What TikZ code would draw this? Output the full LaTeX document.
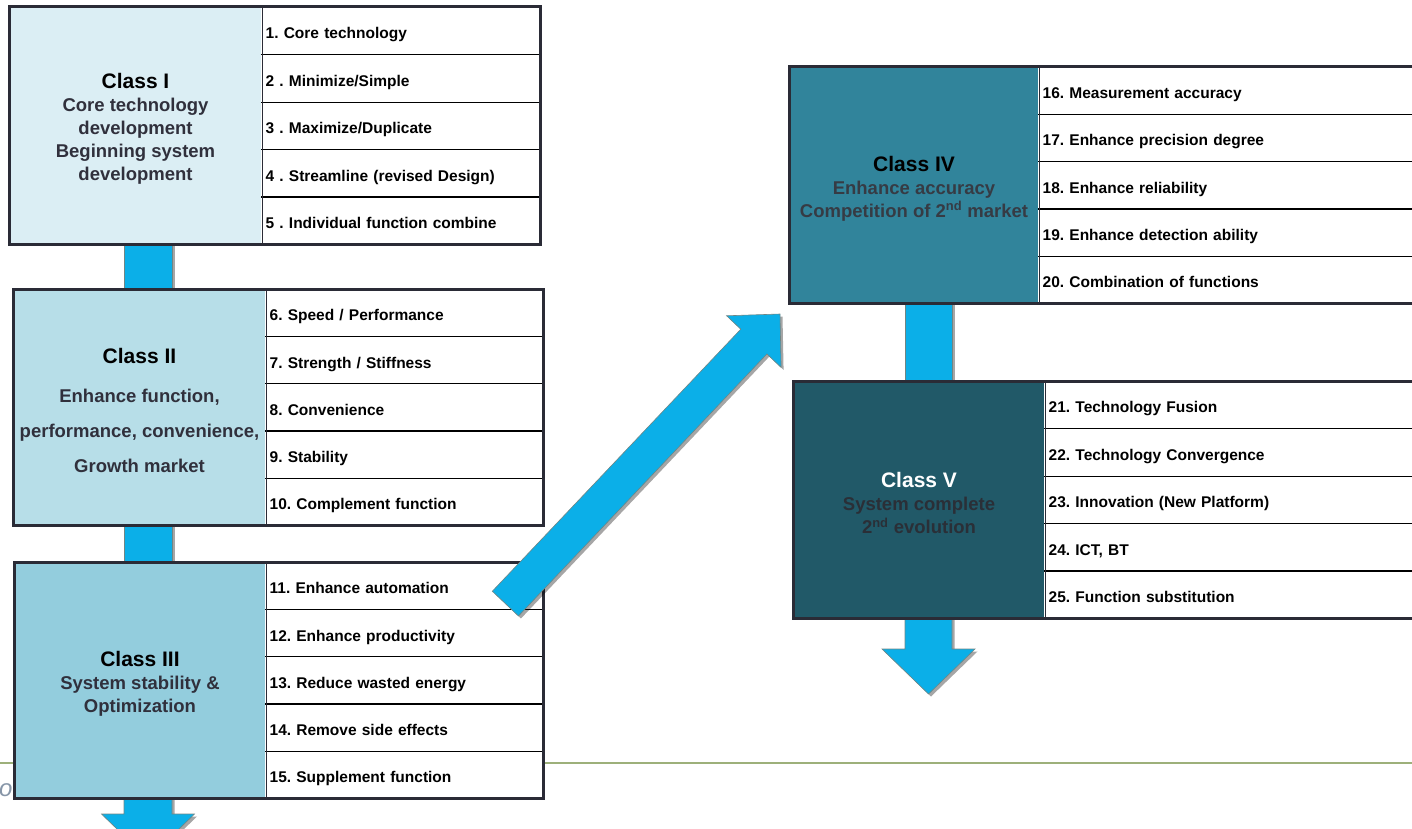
\documentclass[tikz,border=0pt]{standalone}
\usepackage{fontspec}
\setmainfont{Liberation Sans}
\usetikzlibrary{calc,shadows,backgrounds}

\definecolor{boxline}{HTML}{2A2B36}
\definecolor{fillI}{HTML}{DBEEF4}
\definecolor{fillII}{HTML}{B7DEE8}
\definecolor{fillIII}{HTML}{93CDDD}
\definecolor{fillIV}{HTML}{31849B}
\definecolor{fillV}{HTML}{215968}
\definecolor{subgrey}{HTML}{30303C}
\definecolor{subIV}{HTML}{363B44}
\definecolor{subV}{HTML}{2A2F37}
\definecolor{arrowblue}{HTML}{0BAFE8}
\definecolor{arrowedge}{HTML}{6F8584}
\definecolor{footline}{HTML}{9DB07A}
\definecolor{foottext}{HTML}{8796A8}

\newcommand\classtitle{\fontsize{21}{23}\selectfont\bfseries}

\tikzset{
  itemcell/.style={fill=white, inner xsep=4.5pt,
    inner ysep=0pt, anchor=north west, align=left, text=black,
    text height=16pt, text depth=0pt,
    font=\fontsize{15.5}{18}\selectfont\bfseries},
  rowrule/.style={draw=black, line width=1.2pt},
  leftcell/.style={draw=boxline, line width=1pt, anchor=north west, inner sep=0pt},
  celltext/.style={align=center, inner sep=0pt, text=subgrey,
    font=\fontsize{18.5}{23}\selectfont\bfseries},
  outerframe/.style={draw=boxline, line width=3pt},
  arrowbody/.style={fill=arrowblue, draw=arrowedge, line width=0.6pt, line join=miter,
    drop shadow={shadow xshift=2.5pt, shadow yshift=-2.5pt, opacity=0.35, fill=black}},
}

% five stacked item rows with rules between them:
% prefix, x left, x right, y top, row height, items
\newcommand\itemrows[6]{%
  \pgfmathsetmacro\rowtw{#3-#2-9}%
  \foreach \txt [count=\i] in {#6}{%
    \node[itemcell, text width=\rowtw pt, minimum height=#5] (#1r\i) at (#2,{#4+(\i-1)*#5}) {\txt};
  }%
  \foreach \i in {1,...,4}{%
    \draw[rowrule] (#1r\i.south west) -- (#1r\i.south east);
  }}

% block arrow from coordinate #1 to tip #2: half shaft, half head, head length (pt)
\newcommand\blockarrow[5]{%
  \coordinate (#1hb) at ($(#2)!#5pt!(#1)$);
  \path[arrowbody] ($(#1)!#3pt!90:(#2)$) -- ($(#1hb)!#3pt!-90:(#1)$)
    -- ($(#1hb)!#4pt!-90:(#1)$) -- (#2) -- ($(#1hb)!#4pt!90:(#1)$)
    -- ($(#1hb)!#3pt!90:(#1)$) -- ($(#1)!#3pt!-90:(#2)$) -- cycle;
}

\begin{document}
\frenchspacing
\begin{tikzpicture}[x=1pt, y=-1pt]
\useasboundingbox (0,0) rectangle (1412,829);

% ---------- Class I ----------
\node[leftcell, fill=fillI, minimum width=252, minimum height=237] (c1) at (9,7) {};
\node[celltext] (c1t) at ($(c1.center)+(0,3)$)
  {{\classtitle\color{black}Class I}\\Core technology\\development\\Beginning system\\development};
\itemrows{c1}{261}{540}{7}{47.4}{1. Core technology, 2 . Minimize/Simple, 3 . Maximize/Duplicate,
  4 . Streamline (revised Design), 5 . Individual function combine}
\draw[boxline, line width=1pt] (c1.north east) -- (c1.south east);
\draw[outerframe] (c1.north west) rectangle (c1r5.south east);

% ---------- Class II ----------
\node[leftcell, fill=fillII, minimum width=252, minimum height=236] (c2) at (13,289) {};
\node[celltext, font=\fontsize{18.5}{35}\selectfont\bfseries] (c2t) at ($(c2.center)+(0,3)$)
  {{\classtitle\color{black}Class II}\\[4pt]Enhance function,\\performance, convenience,\\Growth market};
\itemrows{c2}{265}{543}{289}{47.2}{6. Speed / Performance, 7. Strength / Stiffness, 8. Convenience,
  9. Stability, 10. Complement function}
\draw[boxline, line width=1pt] (c2.north east) -- (c2.south east);
\draw[outerframe] (c2.north west) rectangle (c2r5.south east);

% ---------- Class III ----------
\node[leftcell, fill=fillIII, minimum width=251, minimum height=236] (c3) at (14,562) {};
\node[celltext] (c3t) at ($(c3.center)+(0,3.5)$)
  {{\classtitle\color{black}Class III}\\System stability \&\\Optimization};
\itemrows{c3}{265}{543}{562}{47.2}{11. Enhance automation, 12. Enhance productivity,
  13. Reduce wasted energy, 14. Remove side effects, 15. Supplement function}
\draw[boxline, line width=1pt] (c3.north east) -- (c3.south east);
\draw[outerframe] (c3.north west) rectangle (c3r5.south east);

% ---------- Class IV ----------
\node[leftcell, fill=fillIV, minimum width=249, minimum height=236] (c4) at (789,67) {};
\node[celltext, text=subIV] (c4t) at ($(c4.center)+(0,3)$)
  {{\classtitle\color{black}Class IV}\\Enhance accuracy\\Competition of 2\textsuperscript{nd} market};
\itemrows{c4}{1038}{1430}{67}{47.2}{16. Measurement accuracy, 17. Enhance precision degree,
  18. Enhance reliability, 19. Enhance detection ability, 20. Combination of functions}
\draw[boxline, line width=1pt] (c4.north east) -- (c4.south east);
\draw[outerframe] (c4.north west) rectangle (c4r5.south east);

% ---------- Class V ----------
\node[leftcell, fill=fillV, minimum width=251, minimum height=237] (c5) at (793,381) {};
\node[celltext, text=subV] (c5t) at ($(c5.center)+(0,3)$)
  {{\classtitle\color{white}Class V}\\System complete\\2\textsuperscript{nd} evolution};
\itemrows{c5}{1044}{1430}{381}{47.4}{21. Technology Fusion, 22. Technology Convergence,
  23. Innovation (New Platform), {24. ICT, BT}, 25. Function substitution}
\draw[boxline, line width=1pt] (c5.north east) -- (c5.south east);
\draw[outerframe] (c5.north west) rectangle (c5r5.south east);

% ---------- background: footer rule and flow arrows ----------
\begin{pgfonlayer}{background}
  \draw[footline, line width=2pt] (0,763) -- (1412,763);
  \node[anchor=base west, inner sep=0pt, text=foottext,
    font=\fontsize{24}{26}\selectfont\itshape] (foot) at (-1,796) {or};

  \coordinate (spineA) at (148,0);
  \coordinate (spineB) at (928.5,0);
  \fill[arrowbody] ($(c1.center -| spineA)+(-24,0)$) rectangle ($(c2.center -| spineA)+(24,0)$);
  \fill[arrowbody] ($(c2.center -| spineA)+(-24,0)$) rectangle ($(c3.center -| spineA)+(24,0)$);
  \fill[arrowbody] ($(c4.center -| spineB)+(-23.5,0)$) rectangle ($(c5.center -| spineB)+(23.5,0)$);

  \coordinate (a3) at (c3.center -| spineA);
  \coordinate (a3tip) at ($(c3.south -| spineA)+(0,60)$);
  \blockarrow{a3}{a3tip}{24}{46.5}{45}
  \coordinate (a5) at (c5.center -| spineB);
  \coordinate (a5tip) at ($(c5.south -| spineB)+(0,75)$);
  \blockarrow{a5}{a5tip}{23.5}{46.5}{45}
\end{pgfonlayer}

% ---------- diagonal arrow from Class III to Class IV ----------
\coordinate (dtail) at ($(c3r1.south east)+(-38,-6)$);
\coordinate (dtip) at ($(c4.south west)+(-9,10)$);
\blockarrow{dtail}{dtip}{18}{37.5}{38}

\end{tikzpicture}
\end{document}
